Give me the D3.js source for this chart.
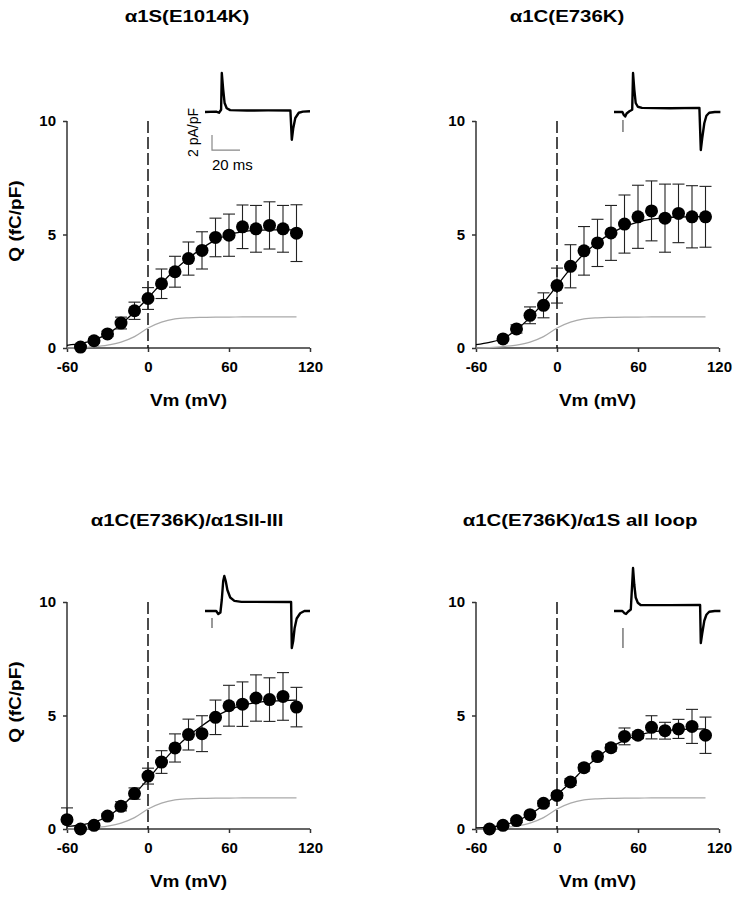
<!DOCTYPE html>
<html><head><meta charset="utf-8">
<script src="https://cdn.jsdelivr.net/npm/d3@7/dist/d3.min.js"></script>
<style>body{margin:0;background:#fff} svg{display:block}</style>
</head><body>
<svg id="c" width="737" height="900"></svg>
<script>
// ---------- data ----------
const titles = ["α1S(E1014K)", "α1C(E736K)", "α1C(E736K)/α1SII-III", "α1C(E736K)/α1S all loop"];
const xTicks = [-60, 0, 60, 120];
const yTicks = [0, 5, 10];
const vm = [-60,-50,-40,-30,-20,-10,0,10,20,30,40,50,60,70,80,90,100,110];

const q1 = [null,0.04,0.32,0.62,1.10,1.64,2.18,2.83,3.36,3.94,4.30,4.87,4.97,5.34,5.25,5.40,5.25,5.06];
const e1 = [null,0.05,0.10,0.12,0.26,0.38,0.48,0.65,0.68,0.73,0.82,0.85,0.93,0.96,1.03,1.04,1.03,1.25];
const q2 = [null,null,0.40,0.84,1.44,1.88,2.75,3.60,4.28,4.63,5.07,5.46,5.78,6.04,5.72,5.93,5.78,5.78];
const e2 = [null,null,0.08,0.18,0.37,0.55,0.77,0.95,1.07,1.04,1.21,1.28,1.39,1.32,1.50,1.29,1.37,1.34];
const q3 = [0.41,0.00,0.16,0.57,1.00,1.56,2.33,2.95,3.57,4.16,4.20,4.92,5.43,5.50,5.77,5.70,5.84,5.37];
const e3 = [0.52,0.05,0.08,0.12,0.20,0.25,0.35,0.50,0.62,0.68,0.79,0.76,0.90,0.98,1.02,0.96,1.05,0.87];
const q4 = [null,0.00,0.16,0.37,0.63,1.13,1.48,2.07,2.70,3.19,3.58,4.08,4.13,4.48,4.33,4.41,4.52,4.13];
const e4 = [null,0.03,0.05,0.08,0.10,0.12,0.12,0.15,0.15,0.15,0.15,0.37,0.15,0.51,0.37,0.42,0.75,0.80];

// fitted curves (read at 10 mV steps)
const fit1 = [0.12,0.20,0.35,0.62,1.05,1.60,2.20,2.85,3.45,3.95,4.40,4.75,5.00,5.12,5.18,5.20,5.20,5.20];
const fit2 = [0.15,0.25,0.42,0.80,1.35,2.00,2.75,3.50,4.15,4.65,5.05,5.35,5.55,5.68,5.74,5.77,5.78,5.79];
const fit3 = [0.12,0.17,0.30,0.55,0.98,1.55,2.20,2.90,3.55,4.10,4.55,4.95,5.25,5.45,5.57,5.63,5.66,5.68];
const fit4 = [0.05,0.08,0.17,0.35,0.65,1.05,1.52,2.05,2.65,3.15,3.60,3.90,4.13,4.27,4.34,4.38,4.40,4.41];
// grey reference curve (same in every panel)
const ctrl = [0.00,0.02,0.06,0.13,0.26,0.50,0.88,1.14,1.28,1.33,1.35,1.36,1.36,1.37,1.37,1.37,1.37,1.37];

// inset current traces: time (ms) and current (pA/pF)
const tr1T = [0,8,10,11.5,12,13,14,15.5,18,30,45,61,62,63,64.5,67,70,75];
const tr1I = [0,0.05,-0.1,0.3,5.2,3.0,1.2,0.5,0.25,0.2,0.22,0.2,-3.7,-2.2,-0.8,-0.1,0.05,0.1];
const tr2T = [0,6,7,8,9,11,13,13.6,14.5,15.5,17,20,40,61,62,63,64.5,66,68,72,76];
const tr2I = [0,0,-0.4,-0.6,-0.2,0.1,0.3,5.2,3.0,1.2,0.7,0.55,0.5,0.55,-5.07,-3.5,-1.5,-0.5,-0.1,0,0];
const tr3T = [0,8,9.5,11,12,13,13.8,14.8,16,18,21,26,61.5,62,63,64,65.5,68,71,75];
const tr3I = [0,0,-0.4,-0.2,1.5,4.0,4.67,4.0,2.8,1.8,1.35,1.22,1.2,-4.93,-4.0,-2.3,-1.0,-0.3,0,0];
const tr4T = [0,6,7.5,8.6,10,12,13.6,14.5,15.5,17,19,40,61.5,62,63,64.5,66,68,72,76];
const tr4I = [0,0,-0.3,-0.4,-0.1,0.2,5.73,3.5,1.8,1.1,0.8,0.78,0.8,-4.27,-3.0,-1.3,-0.5,-0.1,0,0];
// small stimulus marks below the traces: [time, I top, I bottom]
const marks = [null, [6.4,-1.07,-2.67], [5,-0.93,-2.27], [6.4,-2.27,-4.93]];
// scale bar (panel 1): 20 ms, 2 pA/pF
const barT = 20, barI = 2;

// ---------- drawing ----------
const svg = d3.select("#c");
const font = "'Liberation Sans', Arial, Helvetica, sans-serif";
const layout = [
  {ax: 67,  y10: 121, y0: 348, tx: 187, ty: 22,  ylab: true,  base: 112},
  {ax: 476, y10: 121, y0: 348, tx: 567, ty: 22,  ylab: false, base: 112},
  {ax: 67,  y10: 602, y0: 829, tx: 187, ty: 526, ylab: true,  base: 611},
  {ax: 476, y10: 602, y0: 829, tx: 580, ty: 526, ylab: false, base: 611}
];
const qs = [q1,q2,q3,q4], es = [e1,e2,e3,e4], fits = [fit1,fit2,fit3,fit4];
const trT = [tr1T,tr2T,tr3T,tr4T], trI = [tr1I,tr2I,tr3I,tr4I];

layout.forEach((L, p) => {
  const g = svg.append("g");
  const x = d3.scaleLinear().domain([-60,120]).range([L.ax, L.ax + 243]);
  const y = d3.scaleLinear().domain([0,10]).range([L.y0, L.y10]);

  // axes
  const xa = g.append("g").attr("transform", `translate(0,${L.y0})`)
    .call(d3.axisBottom(x).tickValues(xTicks).tickSize(4).tickPadding(9).tickFormat(d => String(d)));
  const ya = g.append("g").attr("transform", `translate(${L.ax},0)`)
    .call(d3.axisLeft(y).tickValues(yTicks).tickSize(4).tickPadding(7).tickFormat(d => String(d)));
  [xa, ya].forEach(a => {
    a.select(".domain").attr("stroke", "#333").attr("stroke-width", 1.5);
    a.selectAll(".tick line").attr("stroke", "#333").attr("stroke-width", 1.5);
    a.selectAll("text").attr("font-family", font).attr("font-size", 15)
      .attr("font-weight", "bold").attr("fill", "#000");
  });
  ya.select(".domain").attr("d", `M0,${L.y0}V${L.y10}`);
  xa.select(".domain").attr("d", `M${L.ax},0H${L.ax+243}`);

  // dashed zero line
  g.append("line").attr("x1", x(0)).attr("x2", x(0)).attr("y1", y(10)).attr("y2", y(0))
    .attr("stroke", "#000").attr("stroke-width", 1.4).attr("stroke-dasharray", "12,4");

  const line = d3.line().x((d, i) => x(vm[i])).y(d => y(d)).curve(d3.curveMonotoneX);
  g.append("path").attr("d", line(ctrl)).attr("fill", "none").attr("stroke", "#aaa").attr("stroke-width", 1.2);
  g.append("path").attr("d", line(fits[p])).attr("fill", "none").attr("stroke", "#000").attr("stroke-width", 1.3);

  // error bars
  const pts = vm.map((v, i) => ({v, q: qs[p][i], e: es[p][i]})).filter(d => d.q !== null);
  const eb = g.append("g").attr("stroke", "#222").attr("stroke-width", 1.1);
  pts.forEach(d => {
    const hi = d.q + d.e, lo = Math.max(0, d.q - d.e);
    eb.append("line").attr("x1", x(d.v)).attr("x2", x(d.v)).attr("y1", y(hi)).attr("y2", y(lo));
    eb.append("line").attr("x1", x(d.v) - 6).attr("x2", x(d.v) + 6).attr("y1", y(hi)).attr("y2", y(hi));
    if (d.q - d.e >= 0)
      eb.append("line").attr("x1", x(d.v) - 6).attr("x2", x(d.v) + 6).attr("y1", y(lo)).attr("y2", y(lo));
  });
  g.append("g").selectAll("circle").data(pts).join("circle")
    .attr("cx", d => x(d.v)).attr("cy", d => y(d.q)).attr("r", 6.5).attr("fill", "#000");

  // title
  g.append("text").attr("transform", `translate(${L.tx},${L.ty}) scale(1.2,1)`)
    .attr("text-anchor", "middle").attr("font-family", font).attr("font-size", 17)
    .attr("font-weight", "bold").text(titles[p]);
  // x label
  g.append("text").attr("transform", `translate(${L.ax + 121.5},${L.y0 + 58}) scale(1.12,1)`)
    .attr("text-anchor", "middle").attr("font-family", font).attr("font-size", 17)
    .attr("font-weight", "bold").text("Vm (mV)");
  if (L.ylab) {
    g.append("text").attr("transform", `translate(${L.ax - 46},${L.y10 + 100}) rotate(-90) scale(1.12,1)`)
      .attr("text-anchor", "middle").attr("font-family", font).attr("font-size", 17)
      .attr("font-weight", "bold").text("Q (fC/pF)");
  }

  // inset trace
  const it = d3.scaleLinear().domain([0, 75]).range([L.ax + 138, L.ax + 243]);
  const iy = d3.scaleLinear().domain([0, 1]).range([L.base, L.base - 7.5]);
  const tl = d3.line().x(d => it(d[0])).y(d => iy(d[1]));
  const tdat = trT[p].map((t, i) => [t, trI[p][i]]);
  g.append("path").attr("d", tl(tdat)).attr("fill", "none").attr("stroke", "#000")
    .attr("stroke-width", 2.4).attr("stroke-linejoin", "round");
  if (marks[p]) {
    const m = marks[p];
    g.append("line").attr("x1", it(m[0])).attr("x2", it(m[0])).attr("y1", iy(m[1])).attr("y2", iy(m[2]))
      .attr("stroke", "#555").attr("stroke-width", 1.2);
  }
  if (p === 0) {
    const bx = 5, by = -5.07;
    g.append("path").attr("d", `M${it(bx)},${iy(by + barI)}V${iy(by)}H${it(bx + barT)}`)
      .attr("fill", "none").attr("stroke", "#888").attr("stroke-width", 1.2);
    g.append("text").attr("x", it(bx)).attr("y", iy(by) + 20).attr("font-family", font)
      .attr("font-size", 15).text(`${barT} ms`);
    g.append("text").attr("transform", `translate(${it(bx) - 14},${iy(by + barI / 2) - 10}) rotate(-90)`)
      .attr("text-anchor", "middle").attr("font-family", font).attr("font-size", 14)
      .text(`${barI} pA/pF`);
  }
});
</script>
</body></html>
